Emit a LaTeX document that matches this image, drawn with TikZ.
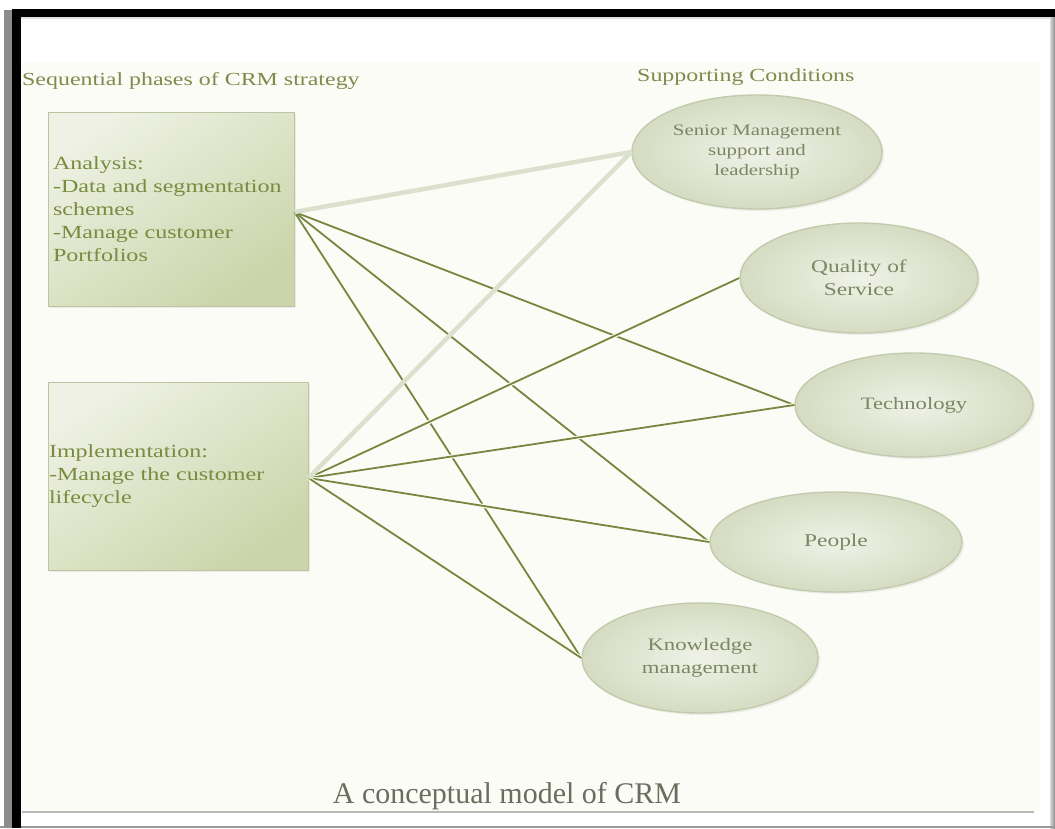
\documentclass[tikz,border=0pt]{standalone}
\usepackage{fontspec}
\setmainfont{Liberation Serif}[FakeStretch=1.3]
\newfontfamily\titlefont{Liberation Serif}
\usetikzlibrary{shapes.geometric,shadows}

\definecolor{paper}{HTML}{FBFCF5}
\definecolor{olivetext}{HTML}{7B8A3E}
\definecolor{headtext}{HTML}{7E8A4C}
\definecolor{ovaltext}{HTML}{7D8563}
\definecolor{titletext}{HTML}{6C6D5E}
\definecolor{boxtop}{HTML}{EEF1E3}
\definecolor{boxbot}{HTML}{CAD5AA}
\definecolor{boxrim}{HTML}{BCC4A2}
\definecolor{ovalin}{HTML}{EFF2E7}
\definecolor{ovalout}{HTML}{D5DCC2}
\definecolor{ovalrim}{HTML}{C3CBAE}
\definecolor{linkdark}{HTML}{77853F}
\definecolor{linkpale}{HTML}{DCE1CD}

\tikzset{
  phasebox/.style={draw=boxrim, line width=1pt, rectangle, inner ysep=0pt,
    top color=boxtop, bottom color=boxbot, shading angle=35,
    align=left, text=olivetext, font=\fontsize{18.5}{23}\selectfont,
    drop shadow={opacity=0.12, shadow xshift=2pt, shadow yshift=-2pt}},
  condoval/.style={ellipse, draw=ovalrim, line width=1.4pt, inner sep=0pt,
    inner color=ovalin, outer color=ovalout, align=center, text=ovaltext,
    drop shadow={opacity=0.12, shadow xshift=2pt, shadow yshift=-2pt}},
  heading/.style={anchor=base west, inner sep=0pt, text=headtext,
    font=\fontsize{18.4}{22}\selectfont},
  link/.style={draw=linkdark, line width=1.8pt},
  linkhalo/.style={link, preaction={draw=paper, line width=4pt}},
  palelink/.style={draw=linkpale, line width=4.5pt}
}

\begin{document}
\begin{tikzpicture}[x=1pt,y=-1pt]
\useasboundingbox (0,0) rectangle (1055,828);
\fill[white] (0,0) rectangle (1055,828);

% page surface and frame
\fill[paper] (22,62) rectangle (1040,811);
\fill[black!28] (22,811) rectangle (1034,813);
\fill[black!12] (21,17) rectangle (1050,19);
\shade[left color=black!15, right color=black!45] (1050,17) rectangle (1055,828);
\fill[black!40] (0,826) rectangle (1055,828);
\fill[black!45] (4,10) rectangle (12,828);
\fill[black] (12,9) rectangle (1055,17);
\fill[black] (12,9) rectangle (21,828);

% column headings
\node[heading] (hl) at (22,85) {Sequential phases of CRM strategy};
\node[heading] (hr) at (637,81) {Supporting Conditions};

% phases of the strategy
\node[phasebox, minimum width=246pt, minimum height=194pt, inner xsep=5pt,
      text width=236pt] (an) at (171,209)
  {Analysis:\\-Data and segmentation\\schemes\\-Manage customer\\Portfolios};
\node[phasebox, minimum width=260pt, minimum height=188pt, inner xsep=1pt,
      text width=258pt] (im) at (178,476)
  {Implementation:\\-Manage the customer\\lifecycle};

% supporting conditions
\node[condoval, minimum width=250pt, minimum height=114pt,
      font=\fontsize{16}{20}\selectfont] (sm) at (757,152)
  {Senior Management\\support and\\leadership};
\node[condoval, minimum width=238pt, minimum height=110pt,
      font=\fontsize{18}{23}\selectfont] (qs) at (859,278)
  {Quality of\\Service};
\node[condoval, minimum width=238pt, minimum height=104pt,
      font=\fontsize{17.4}{22}\selectfont] (tc) at (914,405)
  {Technology};
\node[condoval, minimum width=252pt, minimum height=100pt,
      font=\fontsize{18}{22}\selectfont] (pp) at (836,542)
  {People};
\node[condoval, minimum width=236pt, minimum height=110pt,
      font=\fontsize{17.5}{23}\selectfont] (km) at (700,658)
  {Knowledge\\management};

% connectors from the analysis phase
\coordinate (ao) at ([yshift=-3pt]an.east);
\coordinate (io) at ([yshift=-2pt]im.east);
\draw[link] (ao) -- (tc.west);
\draw[link] (ao) -- (pp.west);
\draw[link] (ao) -- (km.west);

% connectors from the implementation phase
\draw[linkhalo] (io) -- (qs.west);
\draw[linkhalo] (io) -- (tc.west);
\draw[linkhalo] (io) -- (pp.west);
\draw[linkhalo] (io) -- (km.west);

% pale links to senior management
\draw[palelink] (ao) -- (sm.west);
\draw[palelink] (io) -- (sm.west);

% caption
\node[anchor=base, inner sep=0pt, text=titletext,
      font=\titlefont\fontsize{30}{34}\selectfont] (ttl) at (507,803)
  {A conceptual model of CRM};
\end{tikzpicture}
\end{document}
